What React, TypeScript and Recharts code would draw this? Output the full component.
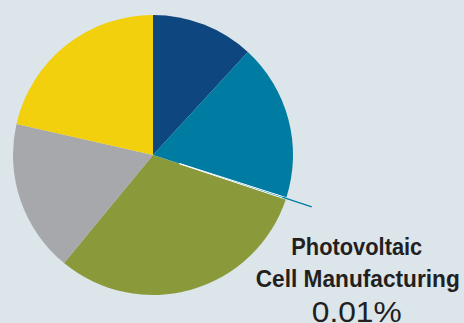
import React from "react";
import { PieChart, Pie, Cell } from "recharts";

const categories = ["Segment A", "Segment B", "Photovoltaic Cell Manufacturing", "Segment D", "Segment E", "Segment F"];
const shares = [11.8, 18.1, 0.01, 31.0, 17.6, 21.5];
const colors = ["#0e4680", "#007ca2", "#007ca2", "#8a9a3b", "#a7a8ab", "#f2d00e"];
const labelLines = ["Photovoltaic", "Cell Manufacturing", "0.01%"];
const highlightIndex = 2;

const data = categories.map((name, i) => ({ name, value: shares[i] }));

const RAD = Math.PI / 180;

const renderLabel = (props: any) => {
  const { cx, cy, midAngle, outerRadius, index } = props;
  if (index !== highlightIndex) return null;
  const r1 = outerRadius - 4;
  const r2 = outerRadius + 27;
  const x1 = cx + Math.cos(-midAngle * RAD) * r1;
  const y1 = cy + Math.sin(-midAngle * RAD) * r1;
  const x2 = cx + Math.cos(-midAngle * RAD) * r2;
  const y2 = cy + Math.sin(-midAngle * RAD) * r2;
  const tx = x2 + 45;
  return (
    <g>
      <line x1={x1} y1={y1} x2={x2} y2={y2} stroke="#007ca2" strokeWidth={1.3} />
      <text x={tx} y={y2 + 48} textAnchor="middle" fontFamily="'Liberation Sans', Arial, sans-serif" fontWeight={700} fontSize={24} fill="#231f20" textLength={131} lengthAdjust="spacingAndGlyphs">
        {labelLines[0]}
      </text>
      <text x={tx + 1} y={y2 + 80} textAnchor="middle" fontFamily="'Liberation Sans', Arial, sans-serif" fontWeight={700} fontSize={24} fill="#231f20" textLength={204} lengthAdjust="spacingAndGlyphs">
        {labelLines[1]}
      </text>
      <text x={tx} y={y2 + 115} textAnchor="middle" fontFamily="'Liberation Sans', Arial, sans-serif" fontWeight={400} fontSize={30} fill="#231f20" textLength={90} lengthAdjust="spacingAndGlyphs">
        {labelLines[2]}
      </text>
    </g>
  );
};

export default function App() {
  return (
    <div style={{ position: "fixed", left: 0, top: 0, width: 464, height: 323, background: "#dbe5ea" }}>
      <PieChart width={464} height={323} margin={{ top: 0, right: 0, bottom: 0, left: 0 }}>
        <Pie
          data={data}
          dataKey="value"
          cx={153}
          cy={155}
          outerRadius={140}
          startAngle={90}
          endAngle={-270}
          minAngle={0.6}
          stroke="none"
          isAnimationActive={false}
          label={false}
          labelLine={false}
        >
          {data.map((d, i) => (
            <Cell key={d.name} fill={colors[i]} stroke="none" />
          ))}
        </Pie>
        <Pie
          data={data}
          dataKey="value"
          cx={153}
          cy={155}
          innerRadius={28}
          outerRadius={140}
          startAngle={90}
          endAngle={-270}
          minAngle={0.6}
          isAnimationActive={false}
          label={renderLabel}
          labelLine={false}
        >
          {data.map((d, i) => (
            <Cell
              key={d.name}
              fill={i === highlightIndex ? colors[i] : "transparent"}
              stroke={i === highlightIndex ? "#ffffff" : "none"}
              strokeWidth={i === highlightIndex ? 1 : 0}
            />
          ))}
        </Pie>
      </PieChart>
    </div>
  );
}
